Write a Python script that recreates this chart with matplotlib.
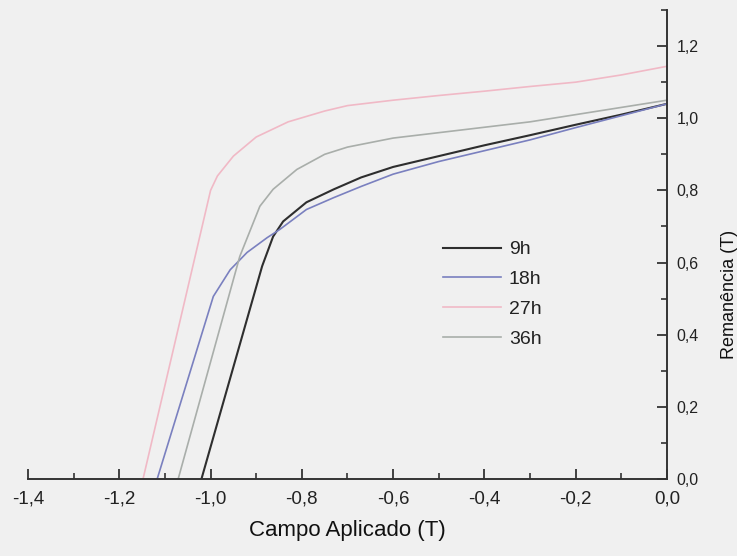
import matplotlib
matplotlib.use("Agg")
import matplotlib.pyplot as plt
from matplotlib.ticker import MultipleLocator, FuncFormatter

plt.rcParams['font.family'] = ['Liberation Sans', 'DejaVu Sans']

# Data
series_labels = ["9h", "18h", "27h", "36h"]

field_9h = [-1.02, -0.887, -0.863, -0.841, -0.79, -0.73, -0.67, -0.60, -0.50, -0.40, -0.30, -0.20, -0.10, 0.0]
rem_9h = [0.0, 0.59, 0.672, 0.714, 0.767, 0.803, 0.836, 0.865, 0.895, 0.925, 0.953, 0.982, 1.01, 1.04]

field_18h = [-1.117, -0.994, -0.957, -0.92, -0.876, -0.848, -0.79, -0.73, -0.67, -0.60, -0.50, -0.40, -0.30, -0.20, -0.10, 0.0]
rem_18h = [0.0, 0.506, 0.58, 0.628, 0.669, 0.692, 0.747, 0.78, 0.811, 0.845, 0.88, 0.91, 0.94, 0.974, 1.007, 1.04]

field_27h = [-1.148, -1.0, -0.985, -0.95, -0.90, -0.83, -0.75, -0.70, -0.60, -0.50, -0.40, -0.30, -0.20, -0.10, 0.0]
rem_27h = [0.0, 0.80, 0.84, 0.895, 0.948, 0.99, 1.02, 1.035, 1.05, 1.063, 1.075, 1.088, 1.10, 1.12, 1.144]

field_36h = [-1.071, -0.936, -0.892, -0.863, -0.811, -0.75, -0.70, -0.60, -0.50, -0.40, -0.30, -0.20, -0.10, 0.0]
rem_36h = [0.0, 0.617, 0.756, 0.803, 0.858, 0.90, 0.92, 0.945, 0.96, 0.975, 0.99, 1.01, 1.03, 1.05]

colors = ["#2e2e2e", "#7a80bf", "#f0b9c6", "#a9aeaa"]
widths = [1.5, 1.2, 1.2, 1.2]

bg = "#f0f0f0"
fig = plt.figure(figsize=(7.37, 5.56), dpi=100, facecolor=bg)
ax = fig.add_axes([0.038, 0.1385, 0.867, 0.8435])
ax.set_facecolor(bg)

fields = [field_9h, field_18h, field_27h, field_36h]
rems = [rem_9h, rem_18h, rem_27h, rem_36h]
for xs, ys, c, lw, lab in zip(fields, rems, colors, widths, series_labels):
    ax.plot(xs, ys, color=c, lw=lw, label=lab, solid_joinstyle='round')

ax.set_xlim(-1.4, 0.0)
ax.set_ylim(0.0, 1.3)

for s in ['top', 'left']:
    ax.spines[s].set_visible(False)
for s in ['bottom', 'right']:
    ax.spines[s].set_color('#333333')
    ax.spines[s].set_linewidth(1.4)

ax.yaxis.tick_right()
ax.yaxis.set_label_position('right')

ax.xaxis.set_major_locator(MultipleLocator(0.2))
ax.xaxis.set_minor_locator(MultipleLocator(0.1))
ax.yaxis.set_major_locator(MultipleLocator(0.2))
ax.yaxis.set_minor_locator(MultipleLocator(0.1))

def fmt(v, p):
    if abs(v) < 1e-9:
        v = 0.0
    return f"{v:.1f}".replace('.', ',')

ax.xaxis.set_major_formatter(FuncFormatter(fmt))
ax.yaxis.set_major_formatter(FuncFormatter(fmt))

ax.tick_params(axis='both', which='major', direction='in', length=7, width=1.3, color='#333333')
ax.tick_params(axis='both', which='minor', direction='in', length=4, width=1.2, color='#333333')
ax.tick_params(axis='x', which='major', labelsize=13.5, pad=8, labelcolor='#222222')
ax.tick_params(axis='y', which='major', labelsize=11.5, pad=7, labelcolor='#222222',
               left=False, right=True, labelleft=False, labelright=True)
ax.tick_params(axis='y', which='minor', left=False, right=True)

ax.set_xlabel("Campo Aplicado (T)", fontsize=16, labelpad=9, color='#111111')
ax.set_ylabel("Remanência (T)", fontsize=13, labelpad=8, color='#111111')
ax.yaxis.set_label_coords(1.085, 0.394)

leg = ax.legend(loc='upper left', bbox_to_anchor=(0.649, 0.508), frameon=False,
                fontsize=14, handlelength=3.0, handletextpad=0.4,
                labelspacing=0.63, borderpad=0, borderaxespad=0)
for t in leg.get_texts():
    t.set_color('#222222')

fig.savefig("out.png", dpi=100, facecolor=bg)
